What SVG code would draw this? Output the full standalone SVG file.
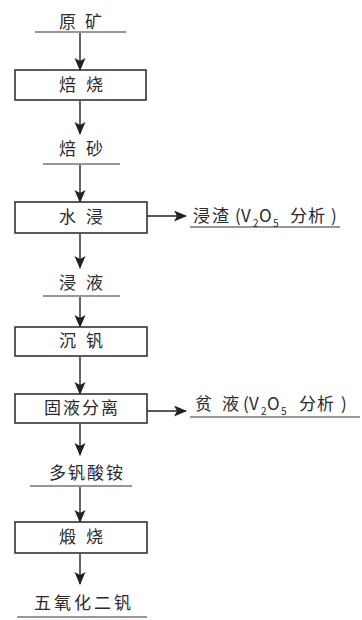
<svg xmlns="http://www.w3.org/2000/svg" width="362" height="620" viewBox="0 0 362 620">
<defs>
<marker id="ah" markerWidth="13" markerHeight="12" refX="12" refY="5.5" orient="auto" markerUnits="userSpaceOnUse">
<path d="M0,0 L13,5.5 L0,11 L3,5.5 Z" fill="#222"/>
</marker>
</defs>
<style>
.t{font-family:"Noto Sans CJK SC","Noto Sans",sans-serif;font-size:17px;fill:#2a2a2a;}
.r{font-family:"Noto Sans CJK SC","Noto Sans",sans-serif;font-size:17px;fill:#2a2a2a;}
.box{fill:#fff;stroke:#333;stroke-width:1.6;}
.ln{stroke:#333;stroke-width:1.2;fill:none;}
.ar{stroke:#222;stroke-width:1.4;fill:none;marker-end:url(#ah);}
.sub{font-size:10px;}
</style>
<rect width="362" height="620" fill="#fff"/>
<g id="connectors">
<line class="ar" x1="80" y1="33" x2="80" y2="70"/>
<line class="ar" x1="80" y1="101" x2="80" y2="134"/>
<line class="ar" x1="80" y1="165" x2="80" y2="202"/>
<line class="ar" x1="80" y1="234" x2="80" y2="268"/>
<line class="ar" x1="80" y1="297" x2="80" y2="327"/>
<line class="ar" x1="80" y1="357" x2="80" y2="394"/>
<line class="ar" x1="80" y1="424" x2="80" y2="455"/>
<line class="ar" x1="80" y1="487" x2="80" y2="522"/>
<line class="ar" x1="80" y1="554" x2="80" y2="584"/>
<line class="ar" x1="147" y1="216" x2="186" y2="216"/>
<line class="ar" x1="147" y1="411" x2="186" y2="411"/>
</g>
<g id="n-yuankuang">
<text class="t" x="85" y="28" text-anchor="middle" letter-spacing="9">原矿</text>
<line class="ln" x1="35" y1="32" x2="126" y2="32"/>
</g>
<g id="n-beishao">
<rect class="box" x="15" y="70" width="131" height="30"/>
<text class="t" x="86" y="91" text-anchor="middle" letter-spacing="10">焙烧</text>
</g>
<g id="n-beisha">
<text class="t" x="86" y="155" text-anchor="middle" letter-spacing="10">焙砂</text>
<line class="ln" x1="43" y1="164" x2="120" y2="164"/>
</g>
<g id="n-shuijin">
<rect class="box" x="15" y="202" width="132" height="31"/>
<text class="t" x="86" y="223" text-anchor="middle" letter-spacing="10">水浸</text>
</g>
<g id="n-jinzha">
<text class="r" y="222"><tspan x="193" letter-spacing="2">浸渣</tspan><tspan x="235">(</tspan><tspan x="241">V</tspan><tspan class="sub" x="253" dy="5">2</tspan><tspan x="259" dy="-5">O</tspan><tspan class="sub" x="273" dy="5">5</tspan><tspan x="290" dy="-5" letter-spacing="1">分析</tspan><tspan x="331">)</tspan></text>
<line class="ln" x1="190" y1="227" x2="340" y2="227"/>
</g>
<g id="n-jinye">
<text class="t" x="86" y="289" text-anchor="middle" letter-spacing="10">浸液</text>
<line class="ln" x1="43" y1="296" x2="120" y2="296"/>
</g>
<g id="n-chenfan">
<rect class="box" x="15" y="327" width="132" height="29"/>
<text class="t" x="86" y="347" text-anchor="middle" letter-spacing="10">沉钒</text>
</g>
<g id="n-guyefenli">
<rect class="box" x="15" y="394" width="132" height="29"/>
<text class="t" x="82" y="414" text-anchor="middle" letter-spacing="2">固液分离</text>
</g>
<g id="n-pinye">
<text class="r" y="410"><tspan x="195">贫</tspan><tspan x="222">液</tspan><tspan x="243">(</tspan><tspan x="249">V</tspan><tspan class="sub" x="261" dy="5">2</tspan><tspan x="267" dy="-5">O</tspan><tspan class="sub" x="281" dy="5">5</tspan><tspan x="299" dy="-5" letter-spacing="1">分析</tspan><tspan x="341">)</tspan></text>
<line class="ln" x1="190" y1="417" x2="360" y2="417"/>
</g>
<g id="n-duofansuanan">
<text class="t" x="87" y="479" text-anchor="middle" letter-spacing="2">多钒酸铵</text>
<line class="ln" x1="30" y1="486" x2="132" y2="486"/>
</g>
<g id="n-duanshao">
<rect class="box" x="15" y="522" width="132" height="31"/>
<text class="t" x="86" y="543" text-anchor="middle" letter-spacing="10">煅烧</text>
</g>
<g id="n-wuyanghuaerfan">
<text class="t" x="84" y="609" text-anchor="middle" letter-spacing="3">五氧化二钒</text>
<line class="ln" x1="17" y1="617" x2="147" y2="617"/>
</g>
</svg>
